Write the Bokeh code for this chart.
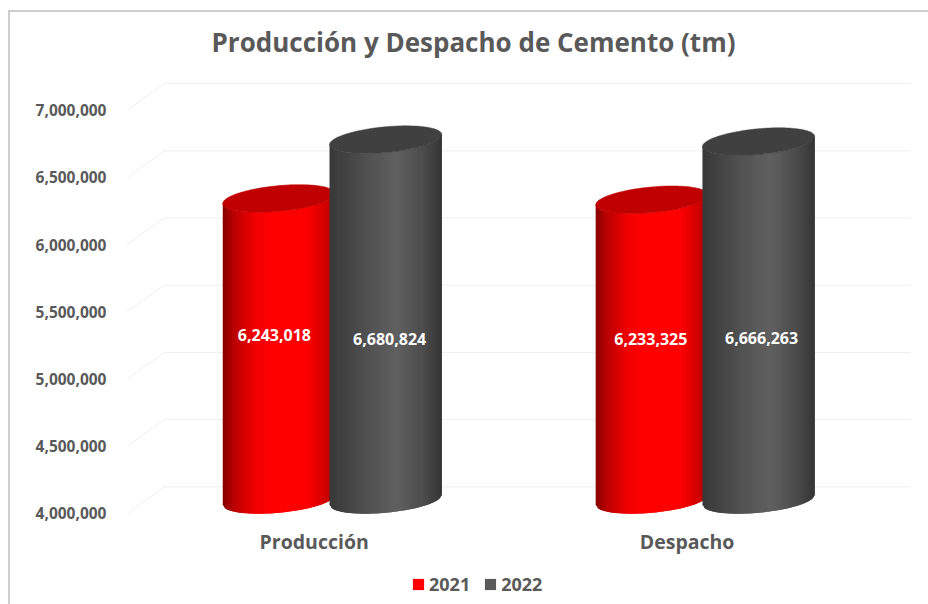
import math
from bokeh.plotting import figure
from bokeh.layouts import column
from bokeh.embed import file_html
from bokeh.resources import INLINE
from bokeh.models import Range1d, FixedTicker, NumeralTickFormatter, Legend, LegendItem, ColumnDataSource
from bokeh.core.properties import value

categories = ["Producción", "Despacho"]
years = ["2021", "2022"]
series_2021 = [6243018, 6233325]
series_2022 = [6680824, 6666263]
y_ticks = [4000000, 4500000, 5000000, 5500000, 6000000, 6500000, 7000000]

FONT = "Open Sans"
TEXT = "#595959"
W, H = 920, 556
FL, FR, FT, FB = 120, 928, 65, 517      # frame edges in page px
CAT_PX = 372.0                          # px per category
PX_X0 = 313.2                           # page px of category 0
V_PX = 500000 / 66.9                    # value per px
PX_4M = 511                             # page px of 4,000,000 on the front plane


def vpx(n):
    return n * V_PX


def xpx(n):
    return n / CAT_PX


p = figure(width=W, height=H, output_backend="svg", toolbar_location=None,
           x_range=Range1d((FL - PX_X0) / CAT_PX, (FR - PX_X0) / CAT_PX),
           y_range=Range1d(4000000 + (PX_4M - FB) * V_PX, 4000000 + (PX_4M - FT) * V_PX),
           min_border_left=FL - 10, min_border_right=0, min_border_top=FT - 12, min_border_bottom=566 - FB,
           outline_line_color=None, background_fill_color="white", border_fill_color="white",
           margin=(10, 0, 0, 8),
           styles={"border-top": "2px solid #cfcfcf", "border-left": "2px solid #cfcfcf", "box-sizing": "border-box"})
p.xgrid.visible = False
p.ygrid.visible = False

p.title.text = "Producción y Despacho de Cemento (tm)"
p.title.align = "left"
p.title.offset = 91
p.title.text_font = FONT
p.title.text_font_size = "26px"
p.title.text_font_style = "bold"
p.title.text_color = TEXT
p.title.standoff = 12

ya = p.yaxis[0]
ya.ticker = FixedTicker(ticks=y_ticks)
ya.formatter = NumeralTickFormatter(format="0,0")
ya.axis_line_color = None
ya.major_tick_line_color = None
ya.minor_tick_line_color = None
ya.major_label_standoff = 8
ya.major_label_text_font = FONT
ya.major_label_text_font_size = "15.5px"
ya.major_label_text_font_style = "bold"
ya.major_label_text_color = TEXT

xa = p.xaxis[0]
xa.ticker = FixedTicker(ticks=list(range(len(categories))))
xa.major_label_overrides = {i: c for i, c in enumerate(categories)}
xa.axis_line_color = None
xa.major_tick_line_color = None
xa.minor_tick_line_color = None
xa.major_label_standoff = 2
xa.major_label_text_font = FONT
xa.major_label_text_font_size = "19.5px"
xa.major_label_text_font_style = "bold"
xa.major_label_text_color = TEXT

# floor/wall grid of the 3D plot
dx_back, dy_back = xpx(37), vpx(26.5)
x_left = (128 - PX_X0 - 1.5) / CAT_PX
x_right = (910 - PX_X0 - 1.5) / CAT_PX
p.multi_line([[x_left, x_left + dx_back, x_right] for _ in y_ticks],
             [[t, t + dy_back, t + dy_back] for t in y_ticks],
             line_color="#eeeeee", line_width=1)


def lerp_stops(stops, t):
    for (a, ca), (b, cb) in zip(stops, stops[1:]):
        if a <= t <= b:
            f = (t - a) / (b - a) if b > a else 0
            c = [round(int(ca[i:i + 2], 16) * (1 - f) + int(cb[i:i + 2], 16) * f) for i in (1, 3, 5)]
            return "#%02x%02x%02x" % tuple(c)
    return stops[-1][1]


RED = [(0, "#860000"), (.10, "#bb0000"), (.28, "#f00000"), (.42, "#ff0000"), (.75, "#ff0000"), (.93, "#cc0000"), (1, "#a00000")]
GRAY = [(0, "#383838"), (.10, "#404040"), (.35, "#525252"), (.60, "#606060"), (.85, "#4a4a4a"), (1, "#353535")]

half_w = xpx(56)
tilt = vpx(5)
semi = vpx(12.8)
dy_mid = vpx(13.5)
off_21, off_22 = xpx(-35.2), xpx(71.3)
N = 64


def cylinder(xc, val, stops, cap):
    xs, ys, cols = [], [], []
    ss = [-1 + 2 * i / N for i in range(N + 1)]

    def front(s, v):
        return v + dy_mid + tilt * s - semi * math.sqrt(max(0, 1 - s * s))

    for i, (a, b) in enumerate(zip(ss, ss[1:])):
        # each strip runs on under the next one, so that no seams show
        e = ss[min(i + 2, N)]
        xs.append([xc + a * half_w, xc + e * half_w, xc + e * half_w, xc + a * half_w])
        ys.append([front(a, 4000000), front(e, 4000000), front(e, val), front(a, val)])
        cols.append(lerp_stops(stops, (a + b) / 4 + .5))
    p.patches(xs, ys, fill_color=cols, line_color=None)
    th = [2 * math.pi * i / 120 for i in range(120)]
    p.patch([xc + math.cos(t) * half_w for t in th],
            [val + dy_mid + tilt * math.cos(t) + semi * math.sin(t) for t in th],
            fill_color=cap, line_color=cap, line_width=0.5)


centers_21, centers_22 = [], []
for i in range(len(categories)):
    centers_21.append(i + off_21)
    centers_22.append(i + off_22)
    cylinder(i + off_21, series_2021[i], RED, "#c00000")
    cylinder(i + off_22, series_2022[i], GRAY, "#404040")

# data labels
lab_y = 4000000 + (PX_4M - 336) * V_PX
src = ColumnDataSource(dict(
    x=centers_21 + centers_22,
    y=[lab_y] * 4,
    t=[f"{v:,}" for v in series_2021 + series_2022],
    dx=[-4.5, -1, 4, 3],
    dy=[-3, 1, 1, 0],
))
p.text("x", "y", text="t", source=src, x_offset="dx", y_offset="dy", text_align="center", text_baseline="middle",
       text_color="white", text_font=value(FONT), text_font_size="16px", text_font_style="bold")

# legend: a strip of its own under the chart
q = figure(width=W, height=38, output_backend="svg", toolbar_location=None,
           x_range=Range1d(0, 1), y_range=Range1d(0, 1), x_axis_location=None, y_axis_location=None,
           min_border=0, outline_line_color=None, background_fill_color="white", border_fill_color="white",
           margin=(0, 0, 0, 8), styles={"border-left": "2px solid #cfcfcf", "box-sizing": "border-box"})
q.xgrid.visible = False
q.ygrid.visible = False
nan = float("nan")
r1 = q.quad(left=[nan], right=[nan], bottom=[nan], top=[nan], fill_color="#ff0000", line_color=None)
r2 = q.quad(left=[nan], right=[nan], bottom=[nan], top=[nan], fill_color="#595959", line_color=None)
leg = Legend(items=[LegendItem(label=years[0], renderers=[r1]), LegendItem(label=years[1], renderers=[r2])],
             orientation="horizontal", location=(291, 8),
             glyph_width=14, glyph_height=14, label_standoff=4, spacing=13, padding=0, margin=0,
             border_line_color=None, background_fill_alpha=0,
             label_text_font=FONT, label_text_font_size="18px", label_text_font_style="bold",
             label_text_color=TEXT, label_height=18)
q.add_layout(leg, "center")

root = column(p, q, spacing=0)
open("out.html", "w").write(file_html(root, INLINE))
